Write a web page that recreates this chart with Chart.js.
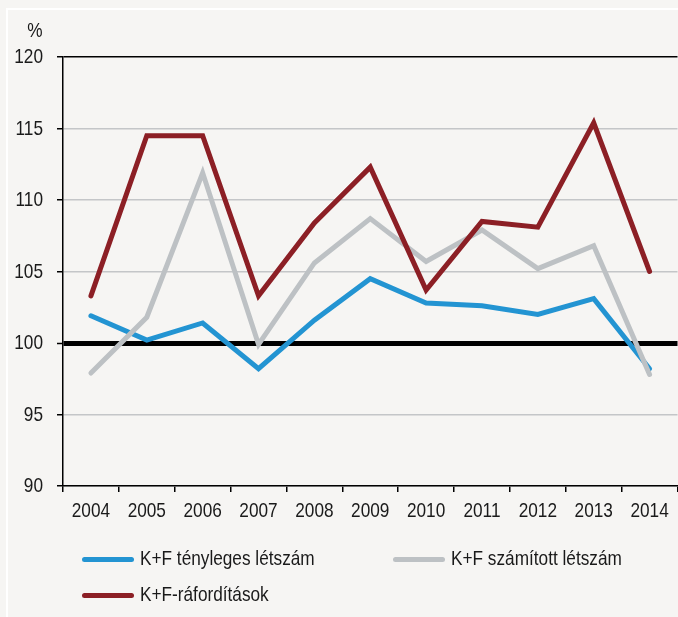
<!DOCTYPE html>
<head>
	<meta charset="utf-8">
	<title>K+F</title>
	<script src="https://cdn.jsdelivr.net/npm/chart.js@4.4.1/dist/chart.umd.min.js"></script>
	<style>
		html, body { margin:0; padding:0; background:#f6f5f3; overflow:hidden; }
		#wrap { position:relative; width:678px; height:617px; overflow:hidden; }
		#frame { position:absolute; left:6px; top:8px; width:700px; height:700px; border-top:2px solid #fff; border-left:2px solid #fff; }
		#myChart { position:absolute; left:0; top:0; }
		.lg { position:absolute; font-family:'Liberation Sans',Arial,sans-serif; font-size:21px; color:#1a1a1a; white-space:nowrap; transform:scaleX(0.82); transform-origin:0 50%; }
		.lgline { position:absolute; height:5px; border-radius:3px; }
	</style>
</head>
<body>
<div id="wrap">
	<div id="frame"></div>
	<canvas id="myChart" width="678" height="617"></canvas>
	<div id="legend"></div>
</div>
<script type="text/javascript">
	var years = ['2004','2005','2006','2007','2008','2009','2010','2011','2012','2013','2014'];
	var tenyleges = [101.9, 100.2, 101.4, 98.2, 101.6, 104.5, 102.8, 102.6, 102.0, 103.1, 98.2];
	var szamitott = [97.9, 101.8, 111.9, 99.9, 105.6, 108.7, 105.7, 107.9, 105.2, 106.8, 97.8];
	var raforditas = [103.3, 114.5, 114.5, 103.3, 108.4, 112.3, 103.7, 108.5, 108.1, 115.4, 105.0];
	var seriesNames = ['K+F tényleges létszám', 'K+F számított létszám', 'K+F-ráfordítások'];
	var seriesColors = ['#2394d2', '#bdc1c4', '#8c1f25'];

	var FONT = "'Liberation Sans', Arial, sans-serif";
	var NARROW = 0.82; // Arial Narrow helyett összenyomott Arial

	function ds(i, data, order){
		return {
			label: seriesNames[i],
			data: data,
			borderColor: seriesColors[i],
			backgroundColor: seriesColors[i],
			borderWidth: 5,
			pointRadius: 0,
			tension: 0,
			borderCapStyle: 'round',
			order: order
		};
	}

	function narrowText(c, txt, x, y, align){
		c.save();
		c.translate(x, y);
		c.scale(NARROW, 1);
		c.textAlign = align;
		c.textBaseline = 'middle';
		c.fillText(txt, 0, 0);
		c.restore();
	}

	// tengelyfeliratok keskeny betűvel, a skálák pozícióiból
	var labelPlugin = {
		id: 'narrowLabels',
		afterDraw: function(chart){
			var c = chart.ctx;
			var xs = chart.scales.x, ys = chart.scales.y;
			c.save();
			c.font = '21px ' + FONT;
			c.fillStyle = '#1a1a1a';
			xs.ticks.forEach(function(t, i){
				narrowText(c, xs.getLabelForValue(t.value), xs.getPixelForTick(i), chart.chartArea.bottom + 25, 'center');
			});
			ys.ticks.forEach(function(t){
				narrowText(c, String(t.value), 43, ys.getPixelForValue(t.value) + 0.5, 'right');
			});
			narrowText(c, '%', 35, 31, 'center');
			c.restore();
		}
	};

	var ctx = document.getElementById('myChart').getContext('2d');
	var chart = new Chart(ctx, {
		type: 'line',
		data: {
			labels: years,
			datasets: [ds(0, tenyleges, 3), ds(1, szamitott, 2), ds(2, raforditas, 1)]
		},
		options: {
			responsive: false,
			animation: false,
			layout: { padding: { top: 57, right: 0.5, left: 0, bottom: 0 } },
			plugins: { legend: { display: false }, tooltip: { enabled: false } },
			scales: {
				x: {
					offset: true,
					grid: {
						offset: true,
						color: function(c){ return c.index === years.length ? '#000' : 'rgba(0,0,0,0)'; },
						lineWidth: 1.5,
						tickColor: '#000',
						tickWidth: 1.5,
						tickLength: 6
					},
					border: { color: '#000', width: 1.5 },
					ticks: { display: false },
					afterFit: function(s){ s.height = 131; }
				},
				y: {
					min: 90,
					max: 120,
					grid: {
						color: function(c){
							var v = c.tick && c.tick.value;
							if (v === 100 || v === 120) return '#000';
							return '#c4c6c8';
						},
						lineWidth: function(c){
							var v = c.tick && c.tick.value;
							return v === 100 ? 5 : 1.5;
						},
						tickColor: '#000',
						tickWidth: 1.5,
						tickLength: 6
					},
					border: { color: '#000', width: 1.5 },
					ticks: { stepSize: 5, display: false },
					afterFit: function(s){ s.width = 63; }
				}
			}
		},
		plugins: [labelPlugin]
	});

	// jelmagyarázat (HTML)
	var legendPos = [[82, 559], [393, 559], [82, 595]];
	var lg = document.getElementById('legend');
	legendPos.forEach(function(p, i){
		var line = document.createElement('div');
		line.className = 'lgline';
		line.style.left = p[0] + 'px';
		line.style.top = (p[1] - 2.5) + 'px';
		line.style.width = '52px';
		line.style.background = seriesColors[i];
		lg.appendChild(line);
		var t = document.createElement('div');
		t.className = 'lg';
		t.textContent = seriesNames[i];
		t.style.left = (p[0] + 58) + 'px';
		t.style.top = (p[1] - 13) + 'px';
		lg.appendChild(t);
	});
</script>
</body>
</html>
